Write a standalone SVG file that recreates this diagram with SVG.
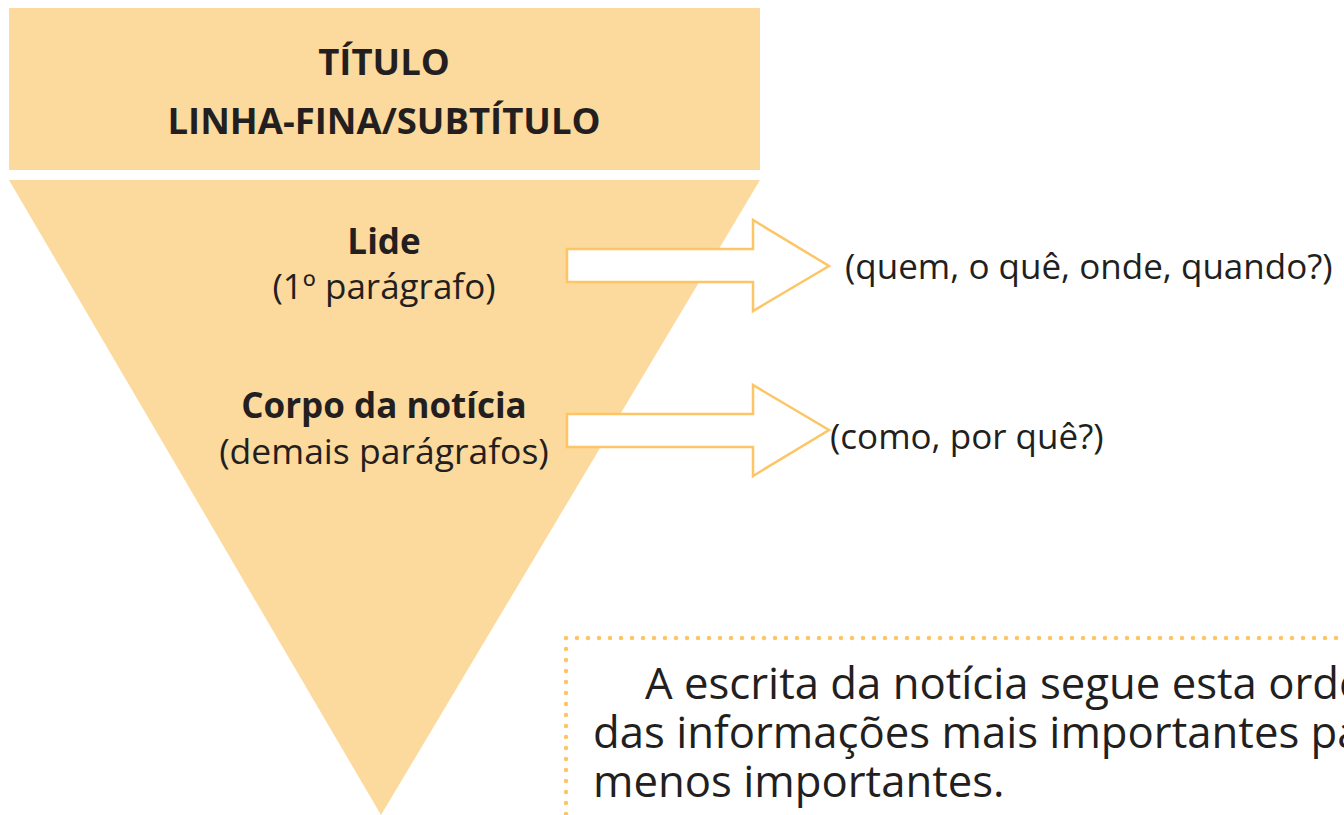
<svg xmlns="http://www.w3.org/2000/svg" width="1344" height="815" viewBox="0 0 1344 815">
<style>
.shape{fill:#FCD99C}
.t{font-family:"Open Sans","Noto Sans","DejaVu Sans",sans-serif;fill:#231F20}
.b{font-weight:bold}
.arrow{fill:#FFFFFF;stroke:#FDC566;stroke-width:2.5;stroke-linejoin:miter}
.dots{fill:none;stroke:#FDC566;stroke-width:4.5;stroke-linecap:round;stroke-dasharray:0 11}
</style>
<rect width="1344" height="815" fill="#FFFFFF"/>
<g id="titulo">
<rect class="shape" x="9" y="8" width="751" height="162"/>
<text class="t b" x="384" y="75" font-size="36.5" text-anchor="middle">TÍTULO</text>
<text class="t b" x="384" y="134" font-size="36.5" text-anchor="middle">LINHA-FINA/SUBTÍTULO</text>
</g>
<g id="piramide">
<polygon class="shape" points="9,180 760,180 381,815"/>
<text class="t b" x="384" y="254" font-size="35" text-anchor="middle">Lide</text>
<text class="t" x="384" y="299" font-size="35" text-anchor="middle">(1º parágrafo)</text>
<text class="t b" x="384" y="418" font-size="35" text-anchor="middle">Corpo da notícia</text>
<text class="t" x="384" y="464" font-size="35.5" text-anchor="middle">(demais parágrafos)</text>
</g>
<g id="connectors">
<polygon class="arrow" points="567,249 753,249 753,220 829,266 753,311 753,282 567,282"/>
<polygon class="arrow" points="567,414 753,414 753,385 829,430 753,476 753,447 567,447"/>
</g>
<g id="resposta-lide">
<text class="t" x="845" y="279" font-size="35">(quem, o quê, onde, quando?)</text>
</g>
<g id="resposta-corpo">
<text class="t" x="830" y="449" font-size="35">(como, por quê?)</text>
</g>
<g id="nota">
<path class="dots" d="M566,638 H1350 M566,638 V820"/>
<text class="t" x="645" y="699" font-size="43.7">A escrita da notícia segue esta ordem:</text>
<text class="t" x="593" y="748" font-size="43.7">das informações mais importantes para as</text>
<text class="t" x="593" y="797" font-size="43.7">menos importantes.</text>
</g>
</svg>
